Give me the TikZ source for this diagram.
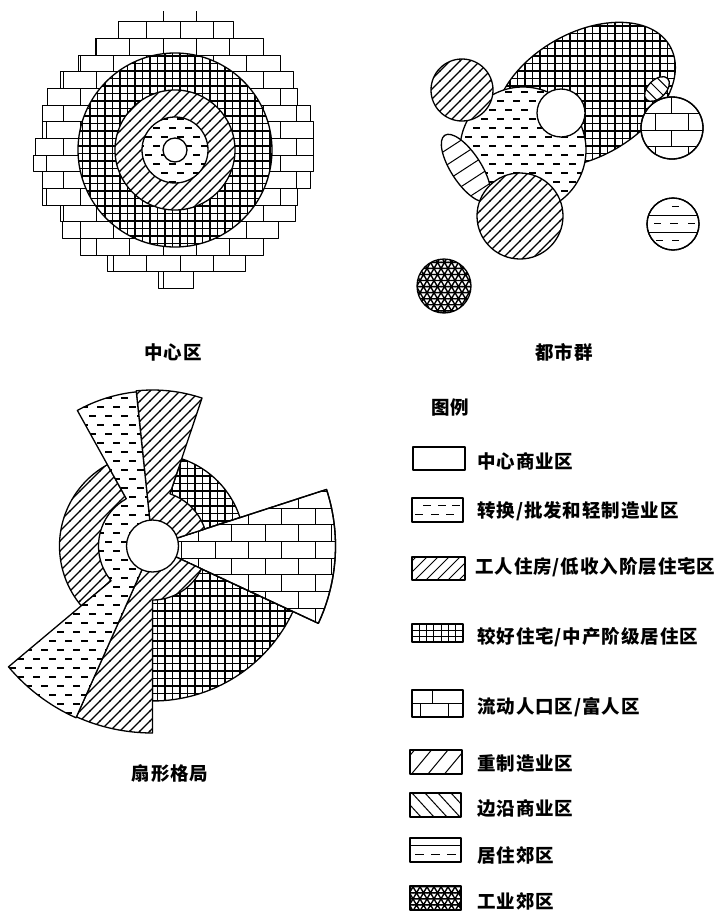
\documentclass[tikz,border=0pt]{standalone}
\usepackage{fontspec}
\setmainfont{Noto Sans CJK SC}[LetterSpace=5]
\usetikzlibrary{patterns}

\pgfdeclarepatternformonly{hatchne}{\pgfqpoint{-1pt}{-1pt}}{\pgfqpoint{11pt}{11pt}}{\pgfqpoint{10pt}{10pt}}{%
  \pgfsetlinewidth{1.1pt}%
  \pgfpathmoveto{\pgfqpoint{-0.5pt}{-0.5pt}}\pgfpathlineto{\pgfqpoint{10.5pt}{10.5pt}}\pgfusepath{stroke}}
\pgfdeclarepatternformonly{gridp}{\pgfqpoint{-1pt}{-1pt}}{\pgfqpoint{8.5pt}{8.5pt}}{\pgfqpoint{7.5pt}{7.5pt}}{%
  \pgfsetlinewidth{1.1pt}%
  \pgfpathmoveto{\pgfqpoint{0pt}{-1pt}}\pgfpathlineto{\pgfqpoint{0pt}{8.5pt}}%
  \pgfpathmoveto{\pgfqpoint{-1pt}{0pt}}\pgfpathlineto{\pgfqpoint{8.5pt}{0pt}}\pgfusepath{stroke}}
\pgfdeclarepatternformonly{dashp}{\pgfqpoint{0pt}{-1pt}}{\pgfqpoint{16pt}{10pt}}{\pgfqpoint{16pt}{18pt}}{%
  \pgfsetlinewidth{1.1pt}%
  \pgfpathmoveto{\pgfqpoint{1pt}{0pt}}\pgfpathlineto{\pgfqpoint{8pt}{0pt}}%
  \pgfpathmoveto{\pgfqpoint{9pt}{9pt}}\pgfpathlineto{\pgfqpoint{16pt}{9pt}}\pgfusepath{stroke}}
\pgfdeclarepatternformonly{meshp}{\pgfqpoint{-1pt}{-1pt}}{\pgfqpoint{8pt}{13.2pt}}{\pgfqpoint{7pt}{12.124pt}}{%
  \pgfsetlinewidth{1.4pt}%
  \pgfpathmoveto{\pgfqpoint{-0.5pt}{0pt}}\pgfpathlineto{\pgfqpoint{7.5pt}{0pt}}%
  \pgfpathmoveto{\pgfqpoint{-0.5pt}{6.062pt}}\pgfpathlineto{\pgfqpoint{7.5pt}{6.062pt}}%
  \pgfpathmoveto{\pgfqpoint{-0.35pt}{-0.606pt}}\pgfpathlineto{\pgfqpoint{7.35pt}{12.73pt}}%
  \pgfpathmoveto{\pgfqpoint{7.35pt}{-0.606pt}}\pgfpathlineto{\pgfqpoint{-0.35pt}{12.73pt}}\pgfusepath{stroke}}

\newcommand\brickwall[4]{%
  \foreach \r in {0,...,#3}{\draw[thinl] ({#1-20},{#2+\r*16.667}) -- ++({#4*33.333+40},0);}
  \foreach \r in {1,...,#3}{\foreach \c in {0,...,#4}{%
    \draw[thinl] ({#1+\c*33.333+mod(\r-1,2)*16.667},{#2+(\r-1)*16.667}) -- ++(0,16.667);}}}

\begin{document}
\begin{tikzpicture}[x=1pt,y=-1pt,line join=round,
  ol/.style={draw=black,line width=1.3pt},
  zone/.style={ol,preaction={fill=white}},
  thinl/.style={line width=1pt},
  lab/.style={font=\fontsize{18.5}{21}\selectfont\bfseries,inner sep=0pt}]
\useasboundingbox (0,0) rectangle (723,911);

% ---------- 中心区 ----------
\foreach \k/\L/\R in {0/118/233,1/95/263,2/78/280,3/60/293,4/47/297,5/42/310,6/42/313,7/35/313,
                     8/33/313,9/42/310,10/42/297,11/60/295,12/62/278,13/80/263,14/107/245,15/158/193}{
  \pgfmathsetmacro\yt{21.7+16.667*\k}
  \pgfmathsetmacro\ph{mod(\k,2)==0 ? 180 : 163.33}
  \begin{scope}
    \clip (\L,\yt) rectangle (\R,\yt+16.667);
    \foreach \c in {-6,...,6} \draw[thinl] (\ph+\c*33.333,\yt) -- ++(0,16.667);
  \end{scope}
  \draw[thinl] (\L,\yt) rectangle (\R,\yt+16.667);
}
\draw[thinl] (163.3,11) -- (163.3,21.7) (196.7,11) -- (196.7,21.7);
\path[zone,pattern=gridp] (175,150) circle[radius=97];
\path[zone,pattern=hatchne] (175,150) circle[radius=60];
\path[zone,pattern=dashp] (175,150) circle[radius=33];
\path[zone] (175,150) circle[radius=12];
\node[lab] (t1) at (173,352) {中心区};

% ---------- 都市群 ----------
\begin{scope}[shift={(585,95)},rotate=30]
  \path[zone,pattern=gridp] (0,0) ellipse[x radius=98,y radius=62];
\end{scope}
\path[zone,pattern=dashp] (523,150) circle[radius=63];
\begin{scope}[shift={(657,89)},rotate=45]
  \path[zone] (0,0) ellipse[x radius=15,y radius=9];
  \clip (0,0) ellipse[x radius=15,y radius=9];
  \foreach \x in {-8,0,8} \draw[thinl] (\x,-10) -- (\x,10);
\end{scope}
\path[zone] (672,128) circle[radius=31];
\begin{scope}
  \clip (672,128) circle[radius=31];
  \brickwall{605.3}{96.7}{4}{4}
\end{scope}
\draw[ol] (672,128) circle[radius=31];
\path[zone,pattern=hatchne] (462,90) circle[radius=31];
\path[zone] (561,113) circle[radius=24];
\begin{scope}[shift={(466,168)},rotate=-57]
  \path[zone] (0,0) ellipse[x radius=39,y radius=15];
  \clip (0,0) ellipse[x radius=39,y radius=15];
  \foreach \x in {-26,-13,0,13,26} \draw[thinl] (\x,-16) -- (\x,16);
\end{scope}
\path[zone,pattern=hatchne] (520,216) circle[radius=43];
% residential suburb circle
\path[zone] (673,224) circle[radius=26];
\begin{scope}
  \clip (673,224) circle[radius=26];
  \draw[thinl] (640,215) -- (705,215) (640,232) -- (705,232);
  \draw[thinl] (672,206.5) -- ++(7,0)
               (654,223.5) -- ++(7,0) (670,223.5) -- ++(8,0) (688,223.5) -- ++(7,0)
               (656,240.5) -- ++(7,0) (672,240.5) -- ++(7,0);
\end{scope}
\draw[ol] (673,224) circle[radius=26];
\path[zone,pattern=meshp] (444,286) circle[radius=27];
\node[lab] (t2) at (564,352) {都市群};

% ---------- 扇形格局 ----------
\begin{scope}[shift={(152.5,546)}]
  \path[zone,pattern=hatchne] (0,0) -- (140:93) arc[start angle=140,end angle=241,radius=93] -- cycle;
  \path[zone,pattern=gridp] (0,0) -- (288.5:92) arc[start angle=288.5,end angle=342,radius=92] -- cycle;
  \path[zone,pattern=gridp] (0,0) -- (25:155) arc[start angle=25,end angle=90,radius=155] -- cycle;
  \path[zone] (0,0) -- (-18:183) arc[start angle=-18,end angle=25,radius=183] -- cycle;
  \begin{scope}
    \clip (0,0) -- (-18:183) arc[start angle=-18,end angle=25,radius=183] -- cycle;
    \brickwall{12.5}{-87.7}{11}{6}
  \end{scope}
  \draw[ol] (0,0) -- (-18:183) arc[start angle=-18,end angle=25,radius=183] -- cycle;
  \path[zone,pattern=hatchne] (0,0) -- (264:156) arc[start angle=264,end angle=288.5,radius=156]
     -- (288.5:55) arc[start angle=288.5,end angle=342,radius=55] -- cycle;
  \path[zone,pattern=hatchne] (0,0) -- (25:54) arc[start angle=25,end angle=90,radius=54]
     -- (90:187) arc[start angle=90,end angle=114,radius=187] -- cycle;
  \path[zone,pattern=dashp] (0,0) -- (114:188) arc[start angle=114,end angle=140,radius=188]
     -- (140:54) arc[start angle=140,end angle=241,radius=54]
     -- (241:155) arc[start angle=241,end angle=264,radius=155] -- cycle;
  \path[zone] (0,0) circle[radius=26];
\end{scope}
\node[lab] (t3) at (170,773) {扇形格局};

% ---------- 图例 ----------
\node[lab] (lg) at (450,407) {图例};
% 1
\draw[ol] (413,447) rectangle (465,470);
% 2
\draw[ol] (412,498) rectangle (463,522);
\foreach \x in {423,438,452} \draw[thinl] (\x,505) -- ++(8,0);
\foreach \x in {415,431,446} \draw[thinl] (\x,514) -- ++(8,0);
% 3
\begin{scope}
  \clip (412,557) rectangle (465,580);
  \foreach \x in {393,404,415,426,437,448,459} \draw[thinl] (\x,580) -- ++(23,-23);
\end{scope}
\draw[ol] (412,557) rectangle (465,580);
% 4
\draw[ol] (412,624) rectangle (463,642);
\foreach \x in {419.3,426.6,433.9,441.2,448.5,455.8} \draw[thinl] (\x,624) -- (\x,642);
\draw[thinl] (412,630) -- (463,630) (412,636) -- (463,636);
\draw[line width=2.2pt] (412,642) -- (463,642);
% 5
\draw[ol] (412,690) rectangle (463,717);
\draw[thinl] (412,703.5) -- (463,703.5) (432,690) -- (432,703.5) (420,703.5) -- (420,717) (448,703.5) -- (448,717);
% 6
\begin{scope}
  \clip (410,750) rectangle (462,774);
  \foreach \x in {394.5,411.5,428,444.5,461} \draw[thinl] (\x,774) -- ++(20,-24);
\end{scope}
\draw[ol] (410,750) rectangle (462,774);
% 7
\begin{scope}
  \clip (410,793) rectangle (461,817);
  \foreach \x in {386,399,412,425,438,451} \draw[thinl] (\x,793) -- ++(22,24);
\end{scope}
\draw[ol] (410,793) rectangle (461,817);
% 8
\draw[ol] (410,838) rectangle (461,862);
\draw[line width=2.2pt] (410,838) -- (461,838);
\draw[thinl] (410,845) -- (461,845);
\foreach \x in {415,431,447} \draw[thinl] (\x,854) -- ++(9,0);
% 9
\path[ol,pattern=meshp] (410,886) rectangle (461,910);

\node[lab,anchor=west] (l1) at (477,461) {中心商业区};
\node[lab,anchor=west] (l2) at (477,511) {转换/批发和轻制造业区};
\node[lab,anchor=west] (l3) at (475,567) {工人住房/低收入阶层住宅区};
\node[lab,anchor=west] (l4) at (477,637) {较好住宅/中产阶级居住区};
\node[lab,anchor=west] (l5) at (477,707) {流动人口区/富人区};
\node[lab,anchor=west] (l6) at (477,763) {重制造业区};
\node[lab,anchor=west] (l7) at (477,809) {边沿商业区};
\node[lab,anchor=west] (l8) at (477,855) {居住郊区};
\node[lab,anchor=west] (l9) at (477,901) {工业郊区};
\end{tikzpicture}
\end{document}
